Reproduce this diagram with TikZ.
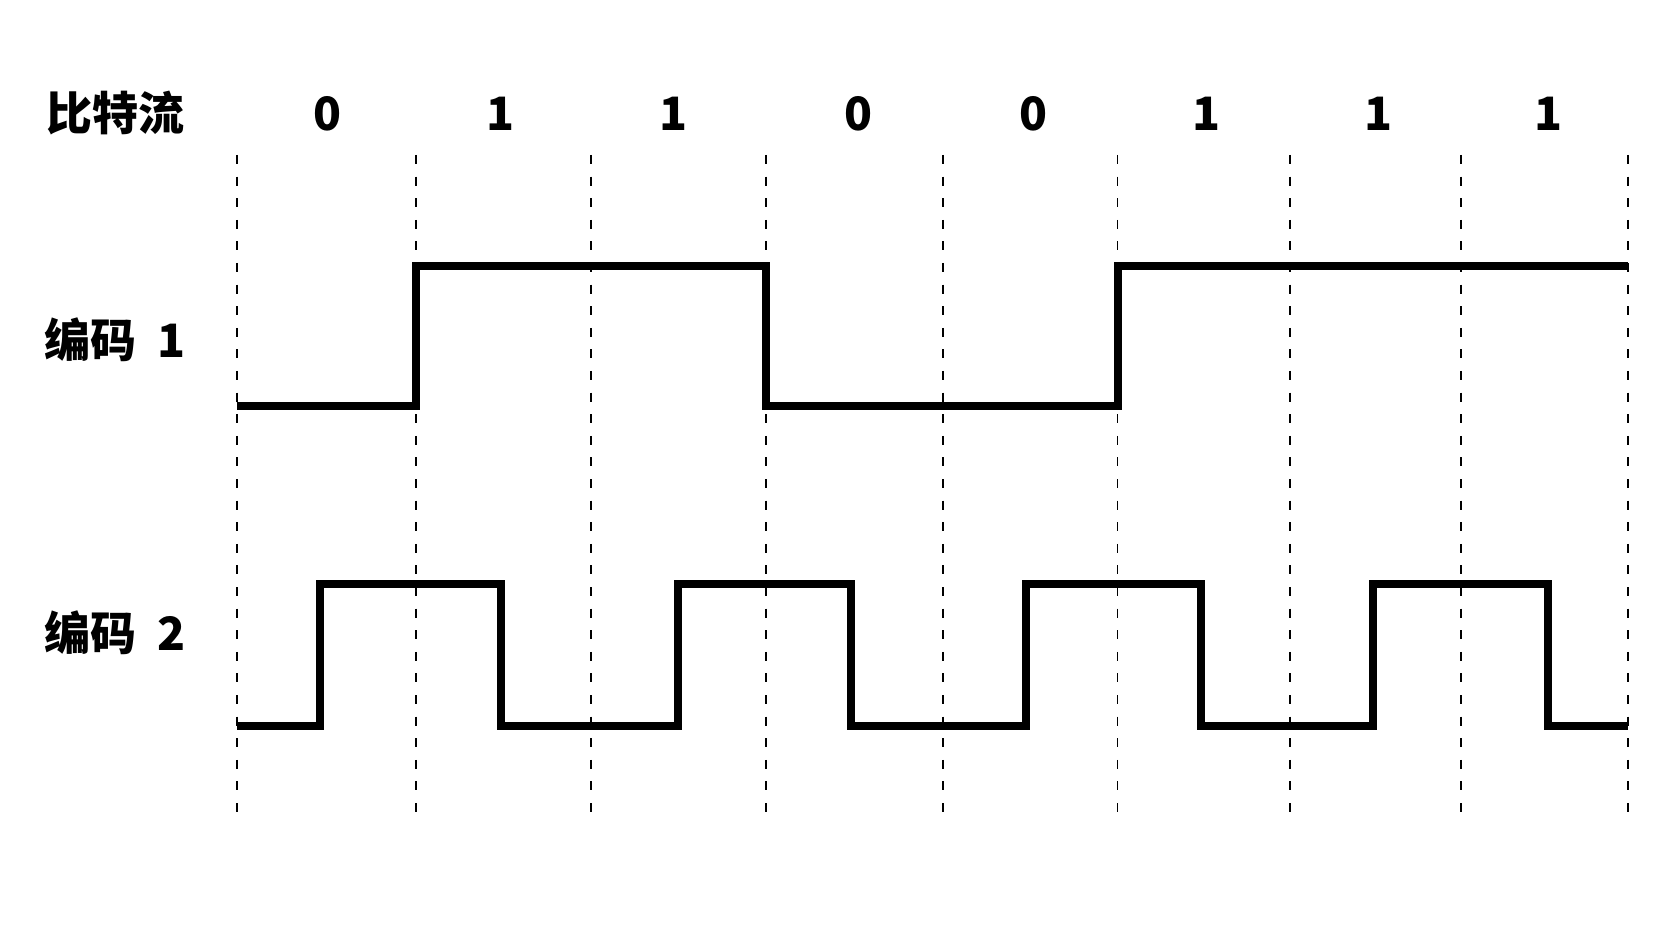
\documentclass[tikz,border=0pt]{standalone}
\usepackage{fontspec}
\setmainfont{Noto Sans CJK SC}
\begin{document}
\begin{tikzpicture}[x=0.5pt,y=-0.5pt,
  wave/.style={line width=4pt, line join=miter, line cap=butt},
  gridline/.style={line width=0.9pt, dash pattern=on 4.5pt off 6.3pt},
  lab/.style={font=\fontsize{23}{23}\selectfont\bfseries, inner sep=0pt}]
\useasboundingbox (0,0) rectangle (1672,941);
\foreach \x in {236.7,415.9,590.7,765.6,942.6,1117.5,1290.2,1460.8,1628.2}
  \draw[gridline] (\x,155) -- (\x,814);
% labels
\node[lab, anchor=west] (bits) at (46,113) {比特流};
\node[lab, anchor=west] (enc1) at (44,340) {编码\hspace{0.45em}1};
\node[lab, anchor=west] (enc2) at (44,633) {编码\hspace{0.45em}2};
\foreach \x/\b [count=\i] in {327.4/0,500.1/1,673.9/1,858.4/0,1033.2/0,1206/1,1378.7/1,1548.3/1}
  \node[lab] (b\i) at (\x,114) {\b};
% encoding 1
\draw[wave] (236.7,406.5) -- (415.9,406.5) -- (415.9,266) -- (765.6,266)
  -- (765.6,406.5) -- (1117.5,406.5) -- (1117.5,266) -- (1628.2,266);
% encoding 2
\draw[wave] (236.7,726) -- (319.9,726) -- (319.9,584) -- (501.2,584)
  -- (501.2,726) -- (678.2,726) -- (678.2,584) -- (850.9,584)
  -- (850.9,726) -- (1025.8,726) -- (1025.8,584) -- (1200.7,584)
  -- (1200.7,726) -- (1373.4,726) -- (1373.4,584) -- (1548.3,584)
  -- (1548.3,726) -- (1628.2,726);
\end{tikzpicture}
\end{document}
